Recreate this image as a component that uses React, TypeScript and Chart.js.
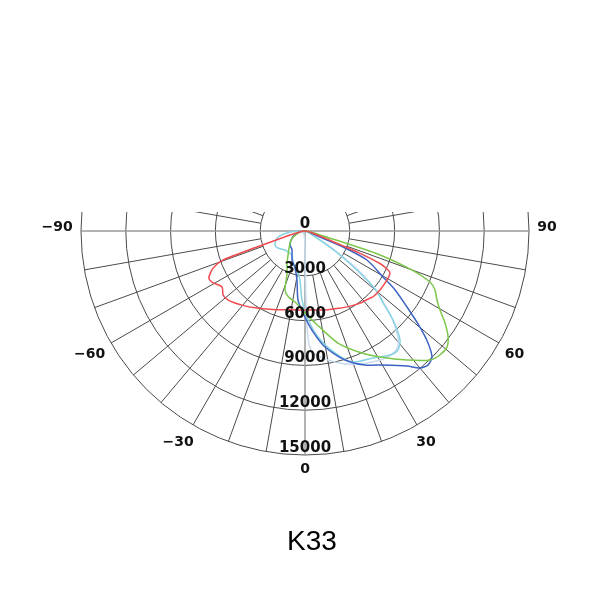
import React, { useEffect, useRef } from "react";
import { Chart, registerables } from "chart.js";

Chart.register(...registerables);

// ---------- data ----------
const TITLE = "K33";
const RING_VALUES = [3000, 6000, 9000, 12000, 15000];
const RING_LABELS = ["0", "3000", "6000", "9000", "12000", "15000"];
const ANGLE_TICKS = [-90, -60, -30, 0, 30, 60, 90];
const ANGLE_TICK_LABELS = ["−90", "−60", "−30", "0", "30", "60", "90"];
const R_MAX = 15000;

const redAngles = [-90, -85, -80, -75, -71.6, -70.5, -68, -64, -61, -56, -52, -48, -40, -32, -20, -11, 0, 8, 16, 24, 29, 37, 44, 46, 52, 59, 63.7, 65, 66.5, 68, 70, 75, 80, 85, 90];
const redValues = [0, 150, 350, 1040, 3390, 5830, 6640, 7160, 7100, 6700, 6960, 6920, 6500, 6080, 5610, 5380, 5290, 5350, 5490, 5660, 5810, 6070, 6250, 6340, 6390, 6400, 6350, 6100, 5500, 3900, 1500, 500, 250, 100, 0];

const greenAngles = [-90, -80, -70, -60, -51, -40, -28, -23, -18.7, -14, -8, -4, 0, 7.5, 16.4, 25, 30.8, 38.3, 44.1, 47.4, 50.7, 53.5, 56.7, 59.7, 62.4, 65.6, 67.8, 70, 72.5, 75, 80, 85, 90];
const greenValues = [0, 250, 600, 1000, 1290, 1700, 2580, 3060, 4170, 4560, 4800, 5100, 5500, 6350, 7820, 9020, 9820, 11010, 12030, 12270, 12280, 11920, 11220, 10470, 9970, 9560, 9040, 7600, 5000, 1100, 400, 150, 0];

const blueAngles = [-90, -80, -70, -61.7, -47, -35, -24, -15, -9.3, -5.8, -1.4, 4, 9.8, 17.2, 24.1, 30.2, 37.1, 40, 42.5, 45.2, 47.7, 50.1, 53.3, 56.8, 59.5, 64.9, 67.2, 68.2, 70, 75, 80, 90];
const blueValues = [0, 300, 700, 990, 1370, 1520, 2130, 2580, 3330, 4640, 5490, 6650, 7880, 9040, 9830, 10380, 11330, 11980, 12180, 11980, 11140, 10030, 8520, 7210, 6060, 4580, 2760, 1080, 600, 300, 200, 0];

const cyanAngles = [-90, -86, -76, -65, -57.8, -46.5, -39, -28.4, -21.2, -15, -9, -5.8, -2.5, 1.3, 7, 13.8, 19.7, 28.2, 34.4, 38, 41.1, 44.7, 47.3, 50, 53, 56, 59, 65, 70, 80, 90];
const cyanValues = [0, 1000, 1930, 2220, 2140, 1850, 1810, 1830, 2230, 2500, 2900, 3300, 4620, 5760, 7150, 8410, 9320, 9650, 10070, 10110, 9680, 8380, 7110, 6300, 4400, 2600, 1000, 400, 250, 100, 0];

const paleAngles = [-90, -45, -10, -2, 1, 2, 4, 8, 14, 20, 28, 34, 38, 41, 45, 48, 51, 54, 57, 60, 70, 90];
const paleValues = [0, 150, 300, 600, 5500, 7600, 8200, 8600, 9100, 9500, 9900, 10100, 10000, 9500, 8200, 7000, 5800, 4200, 2400, 1000, 200, 0];

const SERIES = [
  { name: "red", angles: redAngles, values: redValues, color: "#f04a4f" },
  { name: "green", angles: greenAngles, values: greenValues, color: "#7cc84a" },
  { name: "blue", angles: blueAngles, values: blueValues, color: "#3d63c4" },
  { name: "cyan", angles: cyanAngles, values: cyanValues, color: "#86d3e3" },
  { name: "pale", angles: paleAngles, values: paleValues, color: "#c9dcf0" },
];

// ---------- layout (pixels) ----------
const W = 600;
const H = 600;
const CX = 305;
const CY = 231;
const RPX = 224;
const CLIP_TOP_PX = 212;
const U = R_MAX / RPX; // value units per pixel

const toXY = (deg: number, v: number) => {
  const t = (deg * Math.PI) / 180;
  return { x: v * Math.sin(t), y: -v * Math.cos(t) };
};

const polarPlugin = {
  id: "polarGrid",
  beforeDatasetsDraw(chart: any) {
    const { ctx } = chart;
    const xs = chart.scales.x;
    const ys = chart.scales.y;
    const cx = xs.getPixelForValue(0);
    const cy = ys.getPixelForValue(0);
    const pr = (v: number) => xs.getPixelForValue(v) - cx;
    const clipY = ys.getPixelForValue((CY - CLIP_TOP_PX) * U);
    ctx.save();
    ctx.beginPath();
    ctx.rect(0, clipY, chart.width, chart.height - clipY);
    ctx.clip();
    // rings
    ctx.strokeStyle = "#4a4a4a";
    ctx.lineWidth = 1;
    RING_VALUES.forEach((v) => {
      ctx.beginPath();
      ctx.arc(cx, cy, pr(v), 0, Math.PI * 2);
      ctx.stroke();
    });
    // radial lines
    const r0 = pr(RING_VALUES[0]);
    const r1 = pr(RING_VALUES[RING_VALUES.length - 1]);
    for (let a = 0; a < 360; a += 10) {
      if (a % 90 === 0) continue;
      const t = (a * Math.PI) / 180;
      ctx.beginPath();
      ctx.moveTo(cx + r0 * Math.sin(t), cy + r0 * Math.cos(t));
      ctx.lineTo(cx + r1 * Math.sin(t), cy + r1 * Math.cos(t));
      ctx.stroke();
    }
    // axes
    ctx.strokeStyle = "#9a9a9a";
    ctx.lineWidth = 1.5;
    ctx.beginPath();
    ctx.moveTo(cx - r1, cy);
    ctx.lineTo(cx + r1, cy);
    ctx.moveTo(cx, cy);
    ctx.lineTo(cx, cy + r1);
    ctx.stroke();
    ctx.restore();
  },
  afterDatasetsDraw(chart: any) {
    const { ctx } = chart;
    const xs = chart.scales.x;
    const ys = chart.scales.y;
    const cx = xs.getPixelForValue(0);
    const cy = ys.getPixelForValue(0);
    const pr = (v: number) => xs.getPixelForValue(v) - cx;
    ctx.save();
    ctx.fillStyle = "#111";
    ctx.font = "bold 15px 'DejaVu Sans'";
    ctx.textAlign = "center";
    ctx.textBaseline = "alphabetic";
    RING_LABELS.forEach((lab, i) => {
      const v = i === 0 ? 0 : RING_VALUES[i - 1];
      ctx.fillText(lab, cx, cy + pr(v) - 3);
    });
    ctx.font = "bold 14px 'DejaVu Sans'";
    ctx.textBaseline = "middle";
    const minusW = ctx.measureText("−").width;
    const rl = pr(R_MAX) + 18;
    ANGLE_TICKS.forEach((a, i) => {
      const t = (a * Math.PI) / 180;
      let x = cx + rl * Math.sin(t);
      const y = cy + rl * Math.cos(t) - 4 + 7 * Math.abs(Math.sin(2 * t));
      if (a < 0) x -= minusW / 2;
      ctx.fillText(ANGLE_TICK_LABELS[i], x, y);
    });
    ctx.font = "28px 'Liberation Sans', Arial, sans-serif";
    ctx.fillStyle = "#000";
    ctx.fillText(TITLE, 312, 542);
    ctx.restore();
  },
};

export default function App() {
  const ref = useRef<HTMLCanvasElement | null>(null);
  useEffect(() => {
    if (!ref.current) return;
    const datasets = SERIES.map((s) => ({
      label: s.name,
      data: s.angles.map((a, i) => toXY(a, s.values[i])),
      borderColor: s.color,
      backgroundColor: s.color,
      borderWidth: 1.5,
      pointRadius: 0,
      showLine: true,
      fill: false,
      tension: 0.25,
    }));
    const chart = new Chart(ref.current, {
      type: "scatter",
      data: { datasets },
      options: {
        animation: false,
        responsive: false,
        devicePixelRatio: 1,
        layout: { padding: 0 },
        plugins: {
          legend: { display: false },
          tooltip: { enabled: false },
          title: { display: false },
        },
        scales: {
          x: { type: "linear", display: false, min: -CX * U, max: (W - CX) * U },
          y: { type: "linear", display: false, min: -(H - CY) * U, max: CY * U },
        },
      },
      plugins: [polarPlugin],
    });
    return () => chart.destroy();
  }, []);
  return (
    <div style={{ position: "fixed", left: 0, top: 0, width: W, height: H, background: "#fff" }}>
      <canvas ref={ref} width={W} height={H} style={{ display: "block" }} />
    </div>
  );
}
